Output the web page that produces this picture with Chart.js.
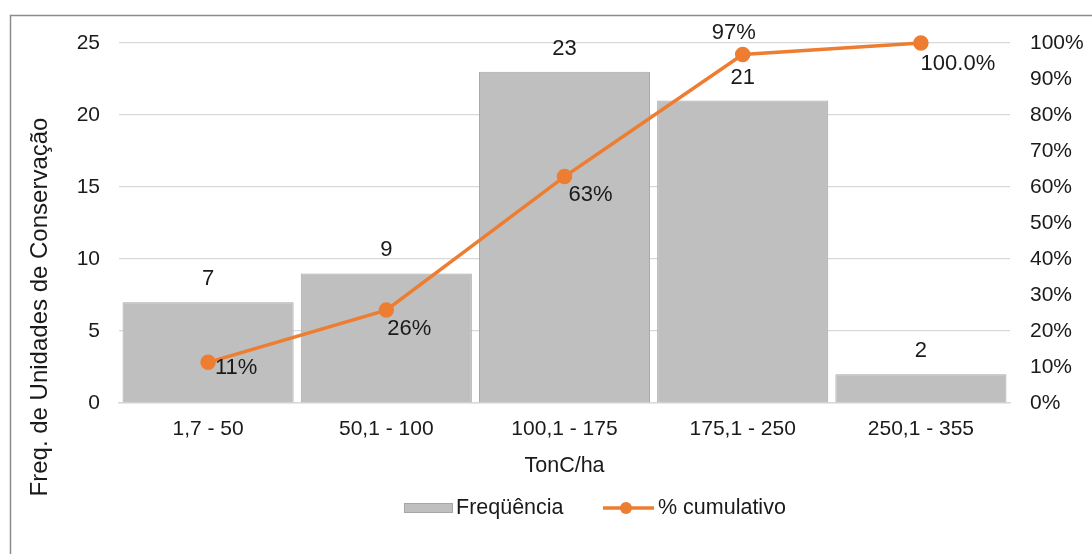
<!DOCTYPE html>
<html>
<head>
<meta charset="utf-8">
<script src="https://cdn.jsdelivr.net/npm/chart.js@4/dist/chart.umd.min.js"></script>
<style>
	html, body {margin: 0; padding: 0; background: #ffffff;}
	canvas {display: block;}
</style>
</head>
<body>
<canvas id="chart" width="1092" height="554"></canvas>
<script>
// dados
const categories = ["1,7 - 50", "50,1 - 100", "100,1 - 175", "175,1 - 250", "250,1 - 355"];
const frequencia = [7, 9, 23, 21, 2];
const cumulativo = [11.3, 25.8, 62.9, 96.8, 100];
const cumulativoLabels = ["11%", "26%", "63%", "97%", "100.0%"];

const textColor = "#1a1a1a";
const fontFamily = "'Liberation Sans', Arial, sans-serif";

// deslocamento dos rótulos da linha (como no Excel, ajustados à mão)
const lineLabelOffsets = [[28, 6], [23, 19], [26, 18], [-9, -22], [37, 21]];

const framePlugin = {
	id: "frame",
	beforeDraw(chart) {
		const ctx = chart.ctx;
		ctx.save();
		ctx.strokeStyle = "#8c8c8c";
		ctx.lineWidth = 1.5;
		ctx.strokeRect(10.5, 15.5, 1200, 700);
		ctx.restore();
	},
};

const labelsPlugin = {
	id: "labels",
	afterDatasetsDraw(chart) {
		const ctx = chart.ctx;
		ctx.save();
		ctx.fillStyle = textColor;
		ctx.font = "22px " + fontFamily;
		ctx.textAlign = "center";
		ctx.textBaseline = "middle";

		chart.getDatasetMeta(0).data.forEach(function (bar, i) {
			ctx.fillText(String(frequencia[i]), bar.x, bar.y - 23);
		});
		chart.getDatasetMeta(1).data.forEach(function (pt, i) {
			const off = lineLabelOffsets[i];
			ctx.fillText(cumulativoLabels[i], pt.x + off[0], pt.y + off[1]);
		});

		// títulos dos eixos
		const area = chart.chartArea;
		ctx.font = "21.5px " + fontFamily;
		ctx.fillText("TonC/ha", (area.left + area.right) / 2, 466);

		ctx.save();
		ctx.translate(40, 307);
		ctx.rotate(-Math.PI / 2);
		ctx.font = "24px " + fontFamily;
		ctx.fillText("Freq. de Unidades de Conservação", 0, 0);
		ctx.restore();

		// legenda
		const ly = 508;
		ctx.font = "21.5px " + fontFamily;
		ctx.textAlign = "left";
		ctx.fillStyle = "#bfbfbf";
		ctx.fillRect(404, ly - 4.5, 48, 9);
		ctx.strokeStyle = "#a6a6a6";
		ctx.lineWidth = 1;
		ctx.strokeRect(404.5, ly - 4.5, 48, 9);
		ctx.fillStyle = textColor;
		ctx.fillText(chart.data.datasets[0].label, 456, ly);

		ctx.strokeStyle = "#ed7d31";
		ctx.lineWidth = 3.5;
		ctx.beginPath();
		ctx.moveTo(603, ly);
		ctx.lineTo(654, ly);
		ctx.stroke();
		ctx.fillStyle = "#ed7d31";
		ctx.beginPath();
		ctx.arc(626, ly, 6, 0, Math.PI * 2);
		ctx.fill();
		ctx.fillStyle = textColor;
		ctx.fillText(chart.data.datasets[1].label, 658, ly);

		ctx.restore();
	},
};

new Chart(document.getElementById("chart"), {
	"type": "bar",
	"data": {
		"labels": categories,
		"datasets": [
			{
				"label": "Freqüência",
				"data": frequencia,
				"backgroundColor": "#bfbfbf",
				"borderColor": "#a6a6a6",
				"borderWidth": 1,
				"barPercentage": 0.96,
				"categoryPercentage": 1,
				"yAxisID": "y",
				"order": 2,
			},
			{
				"type": "line",
				"label": "% cumulativo",
				"data": cumulativo,
				"borderColor": "#ed7d31",
				"backgroundColor": "#ed7d31",
				"borderWidth": 3.5,
				"pointRadius": 6,
				"pointHoverRadius": 6,
				"tension": 0,
				"clip": false,
				"yAxisID": "y1",
				"order": 1,
			},
		],
	},
	"options": {
		"responsive": false,
		"animation": false,
		"devicePixelRatio": 1,
		"layout": {
			"padding": {"top": 43, "left": 0, "right": 0, "bottom": 0},
		},
		"plugins": {
			"legend": {"display": false},
			"tooltip": {"enabled": false},
		},
		"scales": {
			"x": {
				"grid": {"display": false},
				"border": {"color": "#d9d9d9", "width": 1.5},
				"ticks": {
					"color": textColor,
					"font": {"family": fontFamily, "size": 21},
					"padding": 6,
				},
				"afterFit": (scale) => { scale.height = 151; },
			},
			"y": {
				"position": "left",
				"min": 0,
				"max": 25,
				"grid": {"color": "#d9d9d9", "lineWidth": 1.2, "drawTicks": false},
				"border": {"display": false},
				"ticks": {
					"stepSize": 5,
					"color": textColor,
					"font": {"family": fontFamily, "size": 21},
					"padding": 19,
				},
				"afterFit": (scale) => { scale.width = 119; },
			},
			"y1": {
				"position": "right",
				"min": 0,
				"max": 100,
				"grid": {"drawOnChartArea": false, "drawTicks": false},
				"border": {"display": false},
				"ticks": {
					"stepSize": 10,
					"color": textColor,
					"font": {"family": fontFamily, "size": 21},
					"padding": 20,
					"callback": (value) => value + "%",
				},
				"afterFit": (scale) => { scale.width = 82; },
			},
		},
	},
	"plugins": [framePlugin, labelsPlugin],
});
</script>
</body>
</html>
